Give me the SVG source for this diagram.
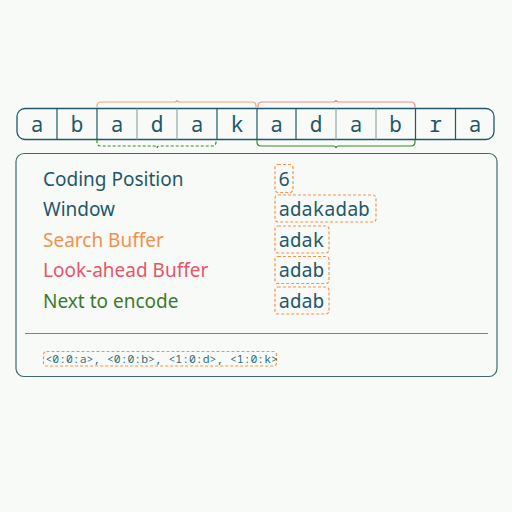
<svg xmlns="http://www.w3.org/2000/svg" width="512" height="512" viewBox="0 0 512 512">
<style>
.cell{font-family:"Noto Sans Mono","Liberation Mono",monospace;font-size:21px;fill:#1f5868;text-anchor:middle}
.lbl{font-family:"Noto Sans","Open Sans",sans-serif;font-size:19px}
.val{font-family:"Noto Sans Mono","Liberation Mono",monospace;font-size:19px;fill:#1f5868}
.box{fill:none;stroke:#f5944a;stroke-width:1.2;stroke-dasharray:3 2}
.div{stroke:#1f5868;stroke-width:1.2}
.divl{stroke:#93aaa8;stroke-width:1.2}
</style>
<rect width="512" height="512" fill="#f8faf8"/>
<g id="row">
<rect x="17" y="108.5" width="477" height="31" rx="8" fill="#f8faf8" stroke="#1f5868" stroke-width="1.3"/>
<line class="div" x1="57" y1="108.5" x2="57" y2="139.5"/>
<line class="div" x1="97" y1="108.5" x2="97" y2="139.5"/>
<line class="divl" x1="137" y1="108.5" x2="137" y2="139.5"/>
<line class="divl" x1="177" y1="108.5" x2="177" y2="139.5"/>
<line class="div" x1="217" y1="108.5" x2="217" y2="139.5"/>
<line class="div" x1="257" y1="108.5" x2="257" y2="139.5"/>
<line class="div" x1="296" y1="108.5" x2="296" y2="139.5"/>
<line class="divl" x1="336" y1="108.5" x2="336" y2="139.5"/>
<line class="divl" x1="376" y1="108.5" x2="376" y2="139.5"/>
<line class="div" x1="415.5" y1="108.5" x2="415.5" y2="139.5"/>
<line class="div" x1="455.5" y1="108.5" x2="455.5" y2="139.5"/>
<text class="cell" x="37" y="131.5">a</text>
<text class="cell" x="77" y="131.5">b</text>
<text class="cell" x="117" y="131.5">a</text>
<text class="cell" x="157" y="131.5">d</text>
<text class="cell" x="197" y="131.5">a</text>
<text class="cell" x="237" y="131.5">k</text>
<text class="cell" x="276.5" y="131.5">a</text>
<text class="cell" x="316" y="131.5">d</text>
<text class="cell" x="356" y="131.5">a</text>
<text class="cell" x="395.5" y="131.5">b</text>
<text class="cell" x="435.5" y="131.5">r</text>
<text class="cell" x="475" y="131.5">a</text>
</g>
<g id="connectors" fill="none" stroke-width="1.2">
<path d="M97,108 V106 Q97,102 101,102 H174 Q177,102 177,100 Q177,102 180,102 H252 Q256,102 256,106 V108" stroke="#f5a874"/>
<path d="M258,108 V106 Q258,102 262,102 H333 Q336,102 336,100 Q336,102 339,102 H411 Q415,102 415,106 V108" stroke="#f08c8c"/>
<path d="M97,140 V142 Q97,146 101,146 H154 Q157,146 157,148 Q157,146 160,146 H212 Q216,146 216,142 V140" stroke="#3a8a2a" stroke-dasharray="3 2"/>
<path d="M257,140 V142 Q257,146 261,146 H333 Q336,146 336,148 Q336,146 339,146 H411 Q415,146 415,142 V140" stroke="#3a8a2a"/>
</g>
<g id="panel">
<rect x="16" y="153.5" width="481" height="223" rx="8" fill="#f8faf8" stroke="#3f6a6a" stroke-width="1.2"/>
<line x1="25" y1="333.5" x2="488" y2="333.5" stroke="#6f8a84" stroke-width="1.2"/>
<text class="lbl" x="43" y="185.5" fill="#1f5868">Coding Position</text>
<text class="lbl" x="43" y="216" fill="#1f5868">Window</text>
<text class="lbl" x="43" y="246.5" fill="#f5904a">Search Buffer</text>
<text class="lbl" x="43" y="277" fill="#e85468">Look-ahead Buffer</text>
<text class="lbl" x="43" y="307.5" fill="#3a7a2a">Next to encode</text>
<rect class="box" x="275" y="164.5" width="18" height="28" rx="3"/>
<text class="val" x="278.5" y="185.5">6</text>
<rect class="box" x="275" y="195" width="101" height="27" rx="3"/>
<text class="val" x="278.5" y="216">adakadab</text>
<rect class="box" x="275" y="226" width="54" height="27" rx="3"/>
<text class="val" x="278.5" y="246.5">adak</text>
<rect class="box" x="275" y="256.5" width="54" height="27" rx="3"/>
<text class="val" x="278.5" y="277">adab</text>
<rect class="box" x="275" y="287" width="54" height="27" rx="3"/>
<text class="val" x="278.5" y="307.5">adab</text>
<rect class="box" x="43.5" y="351.5" width="233" height="14.5" rx="3"/>
<text x="45.5" y="362.8" font-family="Noto Sans Mono,Liberation Mono,monospace" font-size="11.4" fill="#2f6e78">&lt;0:0:a&gt;, &lt;0:0:b&gt;, &lt;1:0:d&gt;, &lt;1:0:k&gt;</text>
</g>
</svg>
